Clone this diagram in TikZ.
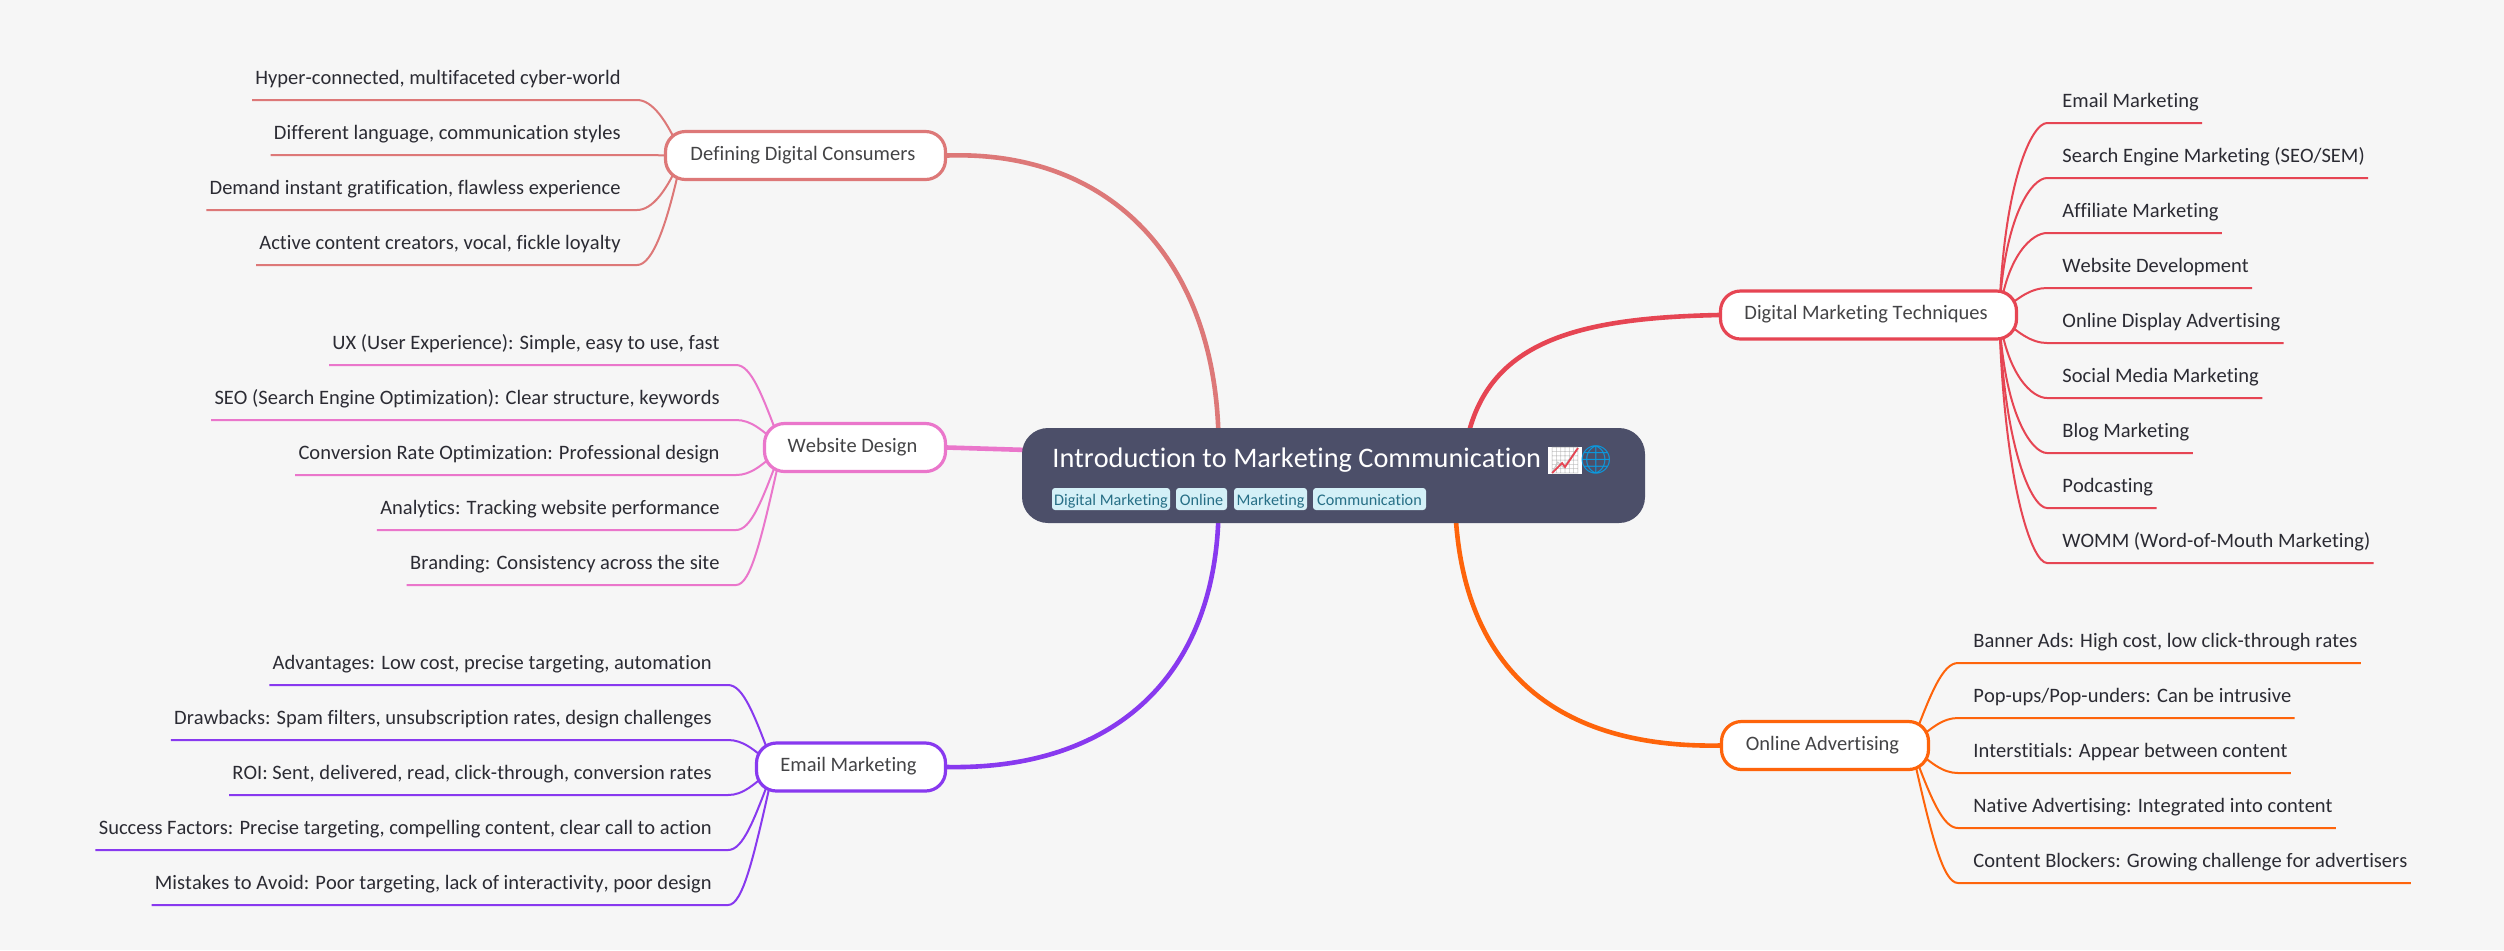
\documentclass[tikz,border=0pt]{standalone}
\usepackage{fontspec}
\setmainfont[Ligatures=NoCommon,Kerning=Off]{Carlito}
\newfontfamily\emojifont{Noto Emoji}
\usetikzlibrary{backgrounds}
\definecolor{pagebg}{HTML}{F6F6F6}
\definecolor{rootbg}{HTML}{4C4F69}
\definecolor{tagbg}{HTML}{D4F0F7}
\definecolor{tagtext}{HTML}{276F86}
\definecolor{leaftext}{HTML}{2B2B33}
\definecolor{boxtext}{HTML}{444446}
\definecolor{dccol}{HTML}{DD7878}
\definecolor{wscol}{HTML}{EA76CB}
\definecolor{emcol}{HTML}{8839EF}
\definecolor{dmcol}{HTML}{E64553}
\definecolor{oacol}{HTML}{FE640B}
\definecolor{globecol}{HTML}{0A9AE0}
\tikzset{
  branchbox/.style={draw=#1, line width=1.6pt, fill=white, rounded corners=10pt, minimum height=24pt, inner sep=0pt, text height=7pt, text depth=2.5pt, text=boxtext, font=\fontsize{10.25}{12}\selectfont, execute at end node=\kern 2.5pt},
  leafL/.style={anchor=south east, inner ysep=0pt, inner xsep=1.5pt, text depth=7.4pt, text=leaftext, font=\fontsize{10.25}{12}\selectfont, execute at end node=\kern 6.5pt},
  leafR/.style={anchor=south west, inner ysep=0pt, inner xsep=1.5pt, text depth=7.4pt, text=leaftext, font=\fontsize{10.25}{12}\selectfont, execute at begin node=\kern 6pt},
  tagbox/.style={fill=tagbg, rounded corners=1.5pt, minimum height=11pt, inner sep=0pt, text height=7pt, text depth=1pt, text=tagtext, font=\fontsize{8.1}{10}\selectfont},
  mainlink/.style={draw=#1, line width=2.3pt},
  leaflink/.style={draw=#1, line width=1pt},
}
\begin{document}
\begin{tikzpicture}[x=0.5pt,y=-0.5pt]
    \useasboundingbox (0,0) rectangle (2504,950);
    % centre
    \node[fill=rootbg, rounded corners=13pt, minimum width=311.5pt, minimum height=47.5pt, inner sep=0pt] (root) at (1333.5,475.5) {};
    \node[anchor=base west, inner sep=0pt, text=white, font=\fontsize{14.15}{16}\selectfont] (title) at (1052,467) {Introduction to Marketing Communication};
    \node[fill=white, inner sep=0.3pt, text=gray!45, font=\emojifont\fontsize{13}{14}\selectfont] (chart) at (1565,460.5) {📈};
    \draw[dmcol, line width=0.9pt] (1552,473) -- (1562,463) -- (1565,467) -- (1578,448);
    \node[inner sep=0pt, text=globecol, font=\emojifont\fontsize{14}{15}\selectfont] (globe) at (1596,460) {🌐};
    \node[tagbox, minimum width=59pt] (tagA) at (1111,499) {Digital Marketing};
    \node[tagbox, minimum width=25.5pt] (tagB) at (1201.5,499) {Online};
    \node[tagbox, minimum width=36.5pt] (tagC) at (1270.5,499) {Marketing};
    \node[tagbox, minimum width=56.5pt] (tagD) at (1369.5,499) {Communication};

    % branches
    \node[branchbox=dccol, minimum width=140pt] (dc) at (805.5,155.5) {Defining Digital Consumers};
    \node[branchbox=wscol, minimum width=90.5pt] (ws) at (855,447.5) {Website Design};
    \node[branchbox=emcol, minimum width=94.5pt] (em) at (851,767) {Email Marketing};
    \node[branchbox=dmcol, minimum width=148pt] (dm) at (1868.5,315) {Digital Marketing Techniques};
    \node[branchbox=oacol, minimum width=103.5pt] (oa) at (1825,745.5) {Online Advertising};

    % leaves
    \node[leafL] (dcA) at (637,100) {Hyper-connected, multifaceted cyber-world};
    \node[leafL] (dcB) at (637,155) {Different language, communication styles};
    \node[leafL] (dcC) at (637,210) {Demand instant gratification, flawless experience};
    \node[leafL] (dcD) at (637,265) {Active content creators, vocal, fickle loyalty};

    \node[leafL] (wsA) at (736,365) {UX (User Experience): Simple, easy to use, fast};
    \node[leafL] (wsB) at (736,420) {SEO (Search Engine Optimization): Clear structure, keywords};
    \node[leafL] (wsC) at (736,475) {Conversion Rate Optimization: Professional design};
    \node[leafL] (wsD) at (736,530) {Analytics: Tracking website performance};
    \node[leafL] (wsE) at (736,585) {Branding: Consistency across the site};

    \node[leafL] (emA) at (728,685) {Advantages: Low cost, precise targeting, automation};
    \node[leafL] (emB) at (728,740) {Drawbacks: Spam filters, unsubscription rates, design challenges};
    \node[leafL] (emC) at (728,795) {ROI: Sent, delivered, read, click-through, conversion rates};
    \node[leafL] (emD) at (728,850) {Success Factors: Precise targeting, compelling content, clear call to action};
    \node[leafL] (emE) at (728,905) {Mistakes to Avoid: Poor targeting, lack of interactivity, poor design};

    \node[leafR] (dmA) at (2047,123) {Email Marketing};
    \node[leafR] (dmB) at (2047,178) {Search Engine Marketing (SEO/SEM)};
    \node[leafR] (dmC) at (2047,233) {Affiliate Marketing};
    \node[leafR] (dmD) at (2047,288) {Website Development};
    \node[leafR] (dmE) at (2047,343) {Online Display Advertising};
    \node[leafR] (dmF) at (2047,398) {Social Media Marketing};
    \node[leafR] (dmG) at (2047,453) {Blog Marketing};
    \node[leafR] (dmH) at (2047,508) {Podcasting};
    \node[leafR] (dmI) at (2047,563) {WOMM (Word-of-Mouth Marketing)};

    \node[leafR] (oaA) at (1958,663) {Banner Ads: High cost, low click-through rates};
    \node[leafR] (oaB) at (1958,718) {Pop-ups/Pop-unders: Can be intrusive};
    \node[leafR] (oaC) at (1958,773) {Interstitials: Appear between content};
    \node[leafR] (oaD) at (1958,828) {Native Advertising: Integrated into content};
    \node[leafR] (oaE) at (1958,883) {Content Blockers: Growing challenge for advertisers};

    \coordinate (dcin) at ([xshift=9pt]dc.west);
    \coordinate (wsin) at ([xshift=9.5pt]ws.west);
    \coordinate (emin) at ([xshift=9.5pt]em.west);
    \coordinate (dmin) at ([xshift=-9.5pt]dm.east);
    \coordinate (oain) at ([xshift=-9.5pt]oa.east);

    \begin{pgfonlayer}{background}
    \fill[pagebg] (0,0) rectangle (2504,950);
    \draw[mainlink=dccol] (dc.east) .. controls (1110,150) and (1215,260) .. ([xshift=-57.5pt,yshift=-5pt]root.north);
    \draw[mainlink=wscol] (ws.east) -- ([yshift=12.75pt,xshift=3pt]root.west);
    \draw[mainlink=emcol] (em.east) .. controls (1110,770) and (1215,680) .. ([xshift=-57.5pt,yshift=5pt]root.south);
    \draw[mainlink=dmcol] (dm.west) .. controls (1580,318) and (1490,340) .. ([xshift=67pt,yshift=-5pt]root.north);
    \draw[mainlink=oacol] (oa.west) .. controls (1580,748) and (1465,690) .. ([xshift=61pt,yshift=5pt]root.south);

    \draw[leaflink=dccol] (dcA.south west) -- (dcA.south east) .. controls +(15,0) and +(-15,-36) .. (dcin);
    \draw[leaflink=dccol] (dcB.south west) -- (dcB.south east) -- (dcin);
    \draw[leaflink=dccol] (dcC.south west) -- (dcC.south east) .. controls +(15,0) and +(-15,36) .. (dcin);
    \draw[leaflink=dccol] (dcD.south west) -- (dcD.south east) .. controls +(15,0) and +(-15,72) .. (dcin);

    \draw[leaflink=wscol] (wsA.south west) -- (wsA.south east) .. controls +(15,0) and +(-20,-54) .. (wsin);
    \draw[leaflink=wscol] (wsB.south west) -- (wsB.south east) .. controls +(15,0) and +(-20,-18) .. (wsin);
    \draw[leaflink=wscol] (wsC.south west) -- (wsC.south east) .. controls +(15,0) and +(-20,18) .. (wsin);
    \draw[leaflink=wscol] (wsD.south west) -- (wsD.south east) .. controls +(15,0) and +(-20,54) .. (wsin);
    \draw[leaflink=wscol] (wsE.south west) -- (wsE.south east) .. controls +(15,0) and +(-20,90) .. (wsin);

    \draw[leaflink=emcol] (emA.south west) -- (emA.south east) .. controls +(15,0) and +(-20,-54) .. (emin);
    \draw[leaflink=emcol] (emB.south west) -- (emB.south east) .. controls +(15,0) and +(-20,-18) .. (emin);
    \draw[leaflink=emcol] (emC.south west) -- (emC.south east) .. controls +(15,0) and +(-20,18) .. (emin);
    \draw[leaflink=emcol] (emD.south west) -- (emD.south east) .. controls +(15,0) and +(-20,54) .. (emin);
    \draw[leaflink=emcol] (emE.south west) -- (emE.south east) .. controls +(15,0) and +(-20,90) .. (emin);

    \draw[leaflink=dmcol] (dmA.south east) -- (dmA.south west) .. controls +(-15,0) and +(5,-135) .. (dmin);
    \draw[leaflink=dmcol] (dmB.south east) -- (dmB.south west) .. controls +(-15,0) and +(5,-100) .. (dmin);
    \draw[leaflink=dmcol] (dmC.south east) -- (dmC.south west) .. controls +(-15,0) and +(8,-60) .. (dmin);
    \draw[leaflink=dmcol] (dmD.south east) -- (dmD.south west) .. controls +(-15,0) and +(18,-18) .. (dmin);
    \draw[leaflink=dmcol] (dmE.south east) -- (dmE.south west) .. controls +(-15,0) and +(18,18) .. (dmin);
    \draw[leaflink=dmcol] (dmF.south east) -- (dmF.south west) .. controls +(-15,0) and +(8,60) .. (dmin);
    \draw[leaflink=dmcol] (dmG.south east) -- (dmG.south west) .. controls +(-15,0) and +(5,100) .. (dmin);
    \draw[leaflink=dmcol] (dmH.south east) -- (dmH.south west) .. controls +(-15,0) and +(5,135) .. (dmin);
    \draw[leaflink=dmcol] (dmI.south east) -- (dmI.south west) .. controls +(-15,0) and +(5,170) .. (dmin);

    \draw[leaflink=oacol] (oaA.south east) -- (oaA.south west) .. controls +(-15,0) and +(20,-54) .. (oain);
    \draw[leaflink=oacol] (oaB.south east) -- (oaB.south west) .. controls +(-15,0) and +(20,-18) .. (oain);
    \draw[leaflink=oacol] (oaC.south east) -- (oaC.south west) .. controls +(-15,0) and +(20,18) .. (oain);
    \draw[leaflink=oacol] (oaD.south east) -- (oaD.south west) .. controls +(-15,0) and +(20,54) .. (oain);
    \draw[leaflink=oacol] (oaE.south east) -- (oaE.south west) .. controls +(-15,0) and +(20,90) .. (oain);
    \end{pgfonlayer}
\end{tikzpicture}
\end{document}
